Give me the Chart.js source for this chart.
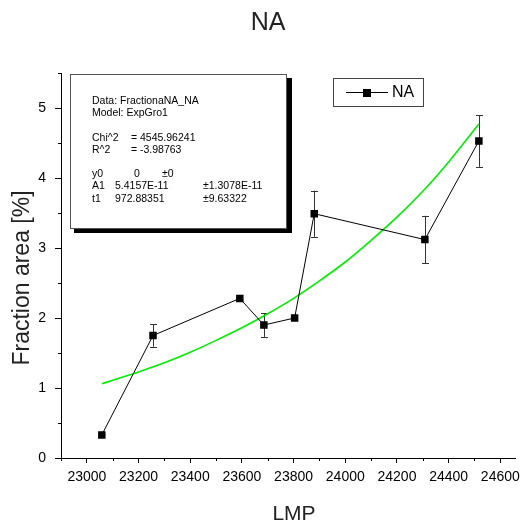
<!DOCTYPE html>
<html>
<head>
<meta charset="utf-8">
<script src="https://cdn.jsdelivr.net/npm/chart.js@4/dist/chart.umd.min.js"></script>
<style>
html,body{margin:0;padding:0;background:#fff;}
#c{display:block;}
</style>
</head>
<body>
<canvas id="c" width="526" height="524"></canvas>
<script>
// ---- data ----
const lmp      = [23058, 23256, 23592, 23685, 23804, 23880, 24308, 24517];
const fraction = [0.33, 1.75, 2.28, 1.90, 2.00, 3.49, 3.12, 4.53];
const fracErr  = [0, 0.16, 0, 0.17, 0, 0.33, 0.34, 0.37];

const fitX = [23058, 23100, 23200, 23300, 23400, 23500, 23600, 23700, 23800, 23900, 24000, 24100, 24200, 24300, 24400, 24517];
const fitY = [1.06, 1.11, 1.23, 1.36, 1.51, 1.68, 1.86, 2.06, 2.28, 2.53, 2.80, 3.11, 3.44, 3.81, 4.23, 4.77];

const xTicks = [23000, 23200, 23400, 23600, 23800, 24000, 24200, 24400, 24600];
const xMinor = [22900, 23100, 23300, 23500, 23700, 23900, 24100, 24300, 24500];
const yTicks = [0, 1, 2, 3, 4, 5];
const yMinor = [0.5, 1.5, 2.5, 3.5, 4.5, 5.5];

const chartTitle = "NA";
const xTitle = "LMP";
const yTitle = "Fraction area [%]";
const seriesName = "NA";
const fitInfo = [
  ["Data: FractionaNA_NA"],
  ["Model: ExpGro1"],
  null,
  ["Chi^2", "=", "4545.96241"],
  ["R^2", "=", "-3.98763"],
  null,
  ["y0", "0", "±0"],
  ["A1", "5.4157E-11", "±1.3078E-11"],
  ["t1", "972.88351", "±9.63322"]
];

const FONT = "'Liberation Sans', Arial, sans-serif";

const decor = {
  id: 'decor',
  beforeDatasetsDraw(chart) {
    const ctx = chart.ctx, xs = chart.scales.x, ys = chart.scales.y;
    ctx.save();
    ctx.strokeStyle = '#333';
    ctx.lineWidth = 1;
    for (let i = 0; i < lmp.length; i++) {
      if (!fracErr[i]) continue;
      const px = Math.round(xs.getPixelForValue(lmp[i])) + 0.5;
      const top = ys.getPixelForValue(fraction[i] + fracErr[i]);
      const bot = ys.getPixelForValue(fraction[i] - fracErr[i]);
      ctx.beginPath();
      ctx.moveTo(px, top); ctx.lineTo(px, bot);
      ctx.moveTo(px - 3.5, Math.round(top) + 0.5); ctx.lineTo(px + 3.5, Math.round(top) + 0.5);
      ctx.moveTo(px - 3.5, Math.round(bot) + 0.5); ctx.lineTo(px + 3.5, Math.round(bot) + 0.5);
      ctx.stroke();
    }
    ctx.restore();
  },
  afterDraw(chart) {
    const ctx = chart.ctx, xs = chart.scales.x, ys = chart.scales.y, ca = chart.chartArea;
    ctx.save();
    // minor ticks
    ctx.strokeStyle = '#000';
    ctx.lineWidth = 1;
    ctx.beginPath();
    xMinor.forEach(v => {
      const px = Math.round(xs.getPixelForValue(v)) + 0.5;
      ctx.moveTo(px, ca.bottom); ctx.lineTo(px, ca.bottom + 3);
    });
    yMinor.forEach(v => {
      const py = Math.round(ys.getPixelForValue(v)) + 0.5;
      ctx.moveTo(ca.left, py); ctx.lineTo(ca.left - 3, py);
    });
    ctx.stroke();

    // titles
    ctx.fillStyle = '#222';
    ctx.textAlign = 'center';
    ctx.textBaseline = 'alphabetic';
    ctx.font = "25px " + FONT;
    ctx.fillText(chartTitle, 268, 30);
    ctx.font = "21px " + FONT;
    ctx.fillText(xTitle, 294, 520);
    ctx.save();
    ctx.translate(29, 278);
    ctx.rotate(-Math.PI / 2);
    ctx.font = "23px " + FONT;
    ctx.fillText(yTitle, 0, 0);
    ctx.restore();

    // fit info box with shadow
    ctx.fillStyle = '#000';
    ctx.fillRect(74, 78, 218, 155);
    ctx.fillStyle = '#fff';
    ctx.fillRect(70, 74, 217, 155);
    ctx.strokeStyle = '#555';
    ctx.strokeRect(70.5, 74.5, 216, 154);
    ctx.fillStyle = '#000';
    ctx.textAlign = 'left';
    ctx.font = "10.5px " + FONT;
    let y = 104;
    fitInfo.forEach(row => {
      if (row) {
        if (row.length === 1) ctx.fillText(row[0], 92, y);
        else if (row[1] === '=') {
          ctx.fillText(row[0], 92, y);
          ctx.fillText(row[1], 131, y);
          ctx.fillText(row[2], 140, y);
        } else if (row[0] === 'y0') {
          ctx.fillText(row[0], 92, y);
          ctx.fillText(row[1], 134, y);
          ctx.fillText(row[2], 162, y);
        } else {
          ctx.fillText(row[0], 92, y);
          ctx.fillText(row[1], 115, y);
          ctx.fillText(row[2], 203, y);
        }
      }
      y += 12.2;
    });

    // legend
    ctx.fillStyle = '#fff';
    ctx.fillRect(333, 78, 91, 29);
    ctx.strokeStyle = '#444';
    ctx.strokeRect(333.5, 78.5, 90, 28);
    ctx.strokeStyle = '#000';
    ctx.beginPath();
    ctx.moveTo(346, 92.5); ctx.lineTo(388, 92.5);
    ctx.stroke();
    ctx.fillStyle = '#000';
    ctx.fillRect(363, 89, 8, 8);
    ctx.font = "16px " + FONT;
    ctx.textBaseline = 'middle';
    ctx.fillText(seriesName, 392, 93);
    ctx.restore();
  }
};

new Chart(document.getElementById('c'), {
  type: 'line',
  data: {
    datasets: [
      {
        label: seriesName,
        data: lmp.map((x, i) => ({x: x, y: fraction[i]})),
        borderColor: '#000',
        borderWidth: 1,
        pointStyle: 'rect',
        pointRadius: 5.3,
        pointBackgroundColor: '#000',
        pointBorderColor: '#000',
        pointBorderWidth: 0,
        tension: 0,
        fill: false
      },
      {
        label: 'fit',
        data: fitX.map((x, i) => ({x: x, y: fitY[i]})),
        borderColor: '#00ee00',
        borderWidth: 1.6,
        pointRadius: 0,
        cubicInterpolationMode: 'monotone',
        fill: false
      }
    ]
  },
  options: {
    responsive: false,
    animation: false,
    devicePixelRatio: 1,
    layout: { padding: { top: 73, right: 6, left: 0, bottom: 0 } },
    plugins: { legend: { display: false }, title: { display: false }, tooltip: { enabled: false } },
    scales: {
      x: {
        type: 'linear',
        min: 22900,
        max: 24660,
        afterBuildTicks: s => { s.ticks = xTicks.map(v => ({value: v})); },
        afterFit: s => { s.height = 66; },
        ticks: { callback: v => String(v), font: { family: FONT, size: 14 }, color: '#000', padding: 6, maxRotation: 0, autoSkip: false },
        grid: { drawOnChartArea: false, tickLength: 5, color: '#000', lineWidth: 1 },
        border: { display: true, color: '#000', width: 1 }
      },
      y: {
        type: 'linear',
        min: 0,
        max: 5.5,
        afterBuildTicks: s => { s.ticks = yTicks.map(v => ({value: v})); },
        afterFit: s => { s.width = 61; },
        ticks: { callback: v => String(v), font: { family: FONT, size: 14 }, color: '#000', padding: 9 },
        grid: { drawOnChartArea: false, tickLength: 6, color: '#000', lineWidth: 1 },
        border: { display: true, color: '#000', width: 1 }
      }
    }
  },
  plugins: [decor]
});
</script>
</body>
</html>
